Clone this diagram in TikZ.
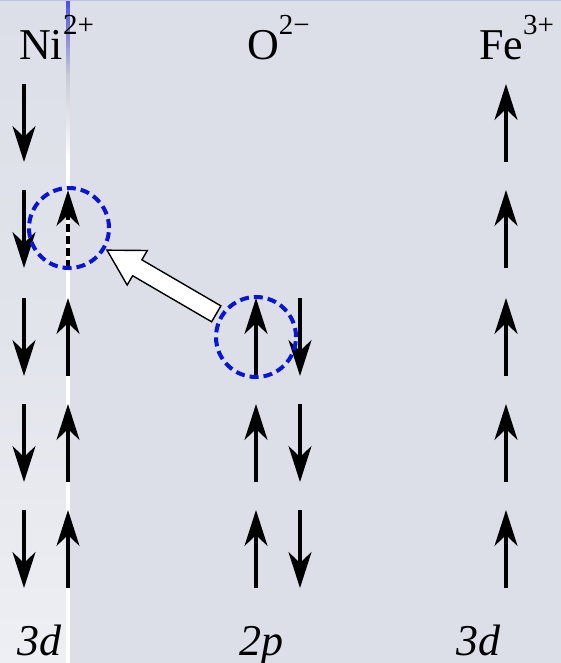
\documentclass[tikz,border=0pt]{standalone}
\usepackage{fontspec}
\setmainfont{Liberation Serif}
\usetikzlibrary{arrows.meta,calc}
\definecolor{bgmain}{HTML}{DCDFE8}
\definecolor{bgleft}{HTML}{EEEFF4}
\definecolor{bgmid}{HTML}{E2E4EB}
\definecolor{ringblue}{HTML}{0A14D8}
\definecolor{edgegray}{HTML}{C9CAD2}
\tikzset{
  spin/.style={line width=3.2pt, -{Stealth[length=36pt,width=23pt,inset=11pt]}},
  ring/.style={circle, draw=ringblue, line width=4pt, dash pattern=on 9pt off 5pt,
               minimum size=80pt, inner sep=0pt},
  ion/.style={anchor=base west, inner sep=0pt, font=\fontsize{44}{46}\selectfont},
  orb/.style={anchor=base west, inner sep=0pt, font=\fontsize{44}{46}\selectfont\itshape},
  blockarrow/.style={draw=black, fill=white, line width=1.4pt, line join=miter},
}
\newcommand{\spsc}[1]{\raisebox{25pt}{\fontsize{29}{30}\selectfont #1}}
\begin{document}
\begin{tikzpicture}[x=1pt,y=-1pt]
\useasboundingbox (0,0) rectangle (561,663);
% background
\fill[bgmain] (0,0) rectangle (561,663);
\shade[top color=bgmain, bottom color=bgleft, middle color=bgmid] (0,0) rectangle (66,663);
\shade[top color=ringblue!75, bottom color=edgegray] (66,0) rectangle (69.5,75);
\shade[top color=edgegray, bottom color=white] (66,75) rectangle (69.5,160);
\fill[white] (66,160) rectangle (69.5,663);
\fill[ringblue!15!bgmain] (0,0) rectangle (561,1.2);

% labels
\node[ion] (ni) at (19,60) {Ni\spsc{2+}};
\node[ion] (ox) at (247,60) {O\spsc{2−}};
\node[ion] (fe) at (479,60) {Fe\spsc{3+}};
\node[orb] (lni) at (17,655) {3d};
\node[orb] (lo) at (239,655) {2p};
\node[orb] (lfe) at (456,655) {3d};

% Ni 3d: down spins
\foreach \r in {84,190,298,404,510}
  \draw[spin] (24,\r) -- (24,\r+78);
% Ni 3d: up spins
\draw[spin, line width=3.6pt, dash pattern=on 8pt off 4pt] (68,268) -- (68,190);
\foreach \r in {298,404,510}
  \draw[spin] (68,\r+78) -- (68,\r);
% O 2p
\foreach \r in {298,404,510}{
  \draw[spin] (256,\r+78) -- (256,\r);
  \draw[spin] (300,\r) -- (300,\r+78);
}
% Fe 3d
\foreach \r in {84,190,298,404,510}
  \draw[spin] (506,\r+78) -- (506,\r);

% rings
\node[ring] (ringNi) at (69,228) {};
\node[ring] (ringO) at (256,337) {};

% block arrow from O ring to Ni ring
\coordinate (tip) at ($(ringNi)!44pt!(ringO)$);
\coordinate (tail) at ($(ringO)!46pt!(ringNi)$);
\coordinate (base) at ($(tip)!35pt!(tail)$);
\draw[blockarrow]
  ($(tail)!9.2pt!90:(tip)$) -- ($(base)!9.2pt!90:(tip)$) -- ($(base)!20pt!90:(tip)$)
  -- (tip) -- ($(base)!20pt!-90:(tip)$) -- ($(base)!9.2pt!-90:(tip)$)
  -- ($(tail)!9.2pt!-90:(tip)$) -- cycle;
\end{tikzpicture}
\end{document}
